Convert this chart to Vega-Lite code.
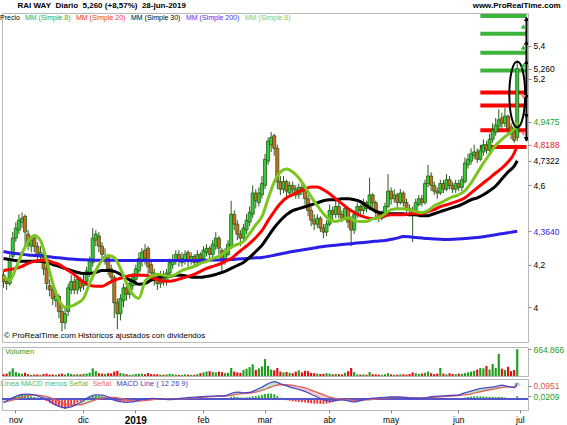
{
"$schema": "https://vega.github.io/schema/vega-lite/v6.json",
"padding": {"left": 1, "top": 1, "right": 0, "bottom": 0},
"background": "white",
"title": {"text": "RAI WAY\u00a0\u00a0Diario\u00a0\u00a05,260\u00a0(+8,57%)\u00a0\u00a028-jun-2019\u00a0\u00a0\u00a0\u00a0\u00a0\u00a0\u00a0\u00a0\u00a0\u00a0\u00a0\u00a0\u00a0\u00a0\u00a0\u00a0\u00a0\u00a0\u00a0\u00a0\u00a0\u00a0\u00a0\u00a0\u00a0\u00a0\u00a0\u00a0\u00a0\u00a0\u00a0\u00a0\u00a0\u00a0\u00a0\u00a0\u00a0\u00a0\u00a0\u00a0\u00a0\u00a0\u00a0\u00a0\u00a0\u00a0\u00a0\u00a0\u00a0\u00a0\u00a0\u00a0\u00a0\u00a0\u00a0\u00a0\u00a0\u00a0\u00a0\u00a0\u00a0\u00a0\u00a0\u00a0\u00a0\u00a0\u00a0\u00a0\u00a0\u00a0\u00a0\u00a0\u00a0\u00a0\u00a0\u00a0\u00a0\u00a0\u00a0\u00a0\u00a0\u00a0\u00a0\u00a0\u00a0\u00a0\u00a0\u00a0\u00a0\u00a0\u00a0\u00a0\u00a0\u00a0\u00a0\u00a0\u00a0\u00a0\u00a0\u00a0\u00a0\u00a0\u00a0\u00a0\u00a0\u00a0\u00a0\u00a0\u00a0\u00a0\u00a0\u00a0\u00a0\u00a0\u00a0\u00a0\u00a0\u00a0\u00a0\u00a0\u00a0\u00a0\u00a0\u00a0\u00a0\u00a0\u00a0\u00a0\u00a0www.ProRealTime.com", "anchor": "start", "fontSize": 8, "fontWeight": "bold", "font": "Liberation Sans", "color": "#000000", "offset": 3, "dx": 16},
"datasets": {
"px": [
{"d":"2018-10-26","o":4.15,"h":4.17,"l":4.09,"c":4.12,"v":45000,"hs":-0.008},
{"d":"2018-10-29","o":4.12,"h":4.14,"l":4.08,"c":4.11,"v":60000,"hs":-0.004},
{"d":"2018-10-30","o":4.11,"h":4.25,"l":4.10,"c":4.23,"v":110000,"hs":0.006},
{"d":"2018-10-31","o":4.24,"h":4.36,"l":4.22,"c":4.33,"v":190000,"hs":0.015},
{"d":"2018-11-01","o":4.33,"h":4.41,"l":4.31,"c":4.38,"v":95000,"hs":0.022},
{"d":"2018-11-02","o":4.37,"h":4.45,"l":4.35,"c":4.42,"v":70000,"hs":0.027},
{"d":"2018-11-05","o":4.41,"h":4.46,"l":4.38,"c":4.43,"v":55000,"hs":0.03},
{"d":"2018-11-06","o":4.44,"h":4.45,"l":4.29,"c":4.36,"v":80000,"hs":0.028},
{"d":"2018-11-07","o":4.35,"h":4.37,"l":4.27,"c":4.30,"v":45000,"hs":0.024},
{"d":"2018-11-08","o":4.29,"h":4.34,"l":4.26,"c":4.32,"v":30000,"hs":0.02},
{"d":"2018-11-09","o":4.33,"h":4.35,"l":4.26,"c":4.29,"v":35000,"hs":0.016},
{"d":"2018-11-12","o":4.29,"h":4.31,"l":4.22,"c":4.25,"v":40000,"hs":0.012},
{"d":"2018-11-13","o":4.24,"h":4.29,"l":4.21,"c":4.26,"v":30000,"hs":0.006},
{"d":"2018-11-14","o":4.25,"h":4.27,"l":4.15,"c":4.18,"v":50000,"hs":-0.004},
{"d":"2018-11-15","o":4.18,"h":4.20,"l":4.08,"c":4.11,"v":60000,"hs":-0.015},
{"d":"2018-11-16","o":4.10,"h":4.13,"l":4.05,"c":4.08,"v":35000,"hs":-0.026},
{"d":"2018-11-19","o":4.08,"h":4.10,"l":4.01,"c":4.04,"v":40000,"hs":-0.038},
{"d":"2018-11-20","o":4.03,"h":4.08,"l":4.00,"c":4.05,"v":30000,"hs":-0.048},
{"d":"2018-11-21","o":4.05,"h":4.06,"l":3.95,"c":3.98,"v":45000,"hs":-0.057},
{"d":"2018-11-22","o":3.98,"h":4.00,"l":3.89,"c":3.93,"v":60000,"hs":-0.066},
{"d":"2018-11-23","o":3.93,"h":4.00,"l":3.90,"c":3.97,"v":40000,"hs":-0.07},
{"d":"2018-11-26","o":3.98,"h":4.11,"l":3.96,"c":4.09,"v":70000,"hs":-0.062},
{"d":"2018-11-27","o":4.08,"h":4.15,"l":4.06,"c":4.12,"v":50000,"hs":-0.05},
{"d":"2018-11-28","o":4.12,"h":4.14,"l":4.06,"c":4.08,"v":35000,"hs":-0.038},
{"d":"2018-11-29","o":4.08,"h":4.15,"l":4.06,"c":4.13,"v":45000,"hs":-0.026},
{"d":"2018-11-30","o":4.13,"h":4.14,"l":4.07,"c":4.09,"v":40000,"hs":-0.015},
{"d":"2018-12-03","o":4.10,"h":4.15,"l":4.08,"c":4.12,"v":55000,"hs":-0.005},
{"d":"2018-12-04","o":4.12,"h":4.19,"l":4.10,"c":4.17,"v":60000,"hs":0.004},
{"d":"2018-12-05","o":4.16,"h":4.24,"l":4.14,"c":4.22,"v":80000,"hs":0.012},
{"d":"2018-12-06","o":4.21,"h":4.38,"l":4.19,"c":4.33,"v":190000,"hs":0.02},
{"d":"2018-12-07","o":4.32,"h":4.37,"l":4.29,"c":4.35,"v":120000,"hs":0.024},
{"d":"2018-12-10","o":4.34,"h":4.36,"l":4.26,"c":4.29,"v":70000,"hs":0.022},
{"d":"2018-12-11","o":4.29,"h":4.31,"l":4.22,"c":4.25,"v":60000,"hs":0.018},
{"d":"2018-12-12","o":4.23,"h":4.28,"l":4.20,"c":4.24,"v":50000,"hs":0.012},
{"d":"2018-12-13","o":4.24,"h":4.25,"l":4.15,"c":4.18,"v":70000,"hs":0.006},
{"d":"2018-12-14","o":4.18,"h":4.20,"l":4.11,"c":4.14,"v":65000,"hs":0.0},
{"d":"2018-12-17","o":4.14,"h":4.15,"l":3.95,"c":4.02,"v":110000,"hs":-0.008},
{"d":"2018-12-18","o":4.02,"h":4.04,"l":3.90,"c":3.97,"v":130000,"hs":-0.014},
{"d":"2018-12-19","o":3.97,"h":4.06,"l":3.94,"c":4.04,"v":75000,"hs":-0.018},
{"d":"2018-12-20","o":4.03,"h":4.11,"l":4.00,"c":4.09,"v":60000,"hs":-0.018},
{"d":"2018-12-21","o":4.09,"h":4.12,"l":4.03,"c":4.06,"v":45000,"hs":-0.016},
{"d":"2018-12-27","o":4.06,"h":4.13,"l":4.04,"c":4.11,"v":30000,"hs":-0.013},
{"d":"2018-12-28","o":4.10,"h":4.16,"l":4.08,"c":4.14,"v":35000,"hs":-0.01},
{"d":"2019-01-02","o":4.13,"h":4.20,"l":4.10,"c":4.18,"v":50000,"hs":-0.006},
{"d":"2019-01-03","o":4.17,"h":4.26,"l":4.15,"c":4.23,"v":55000,"hs":-0.002},
{"d":"2019-01-04","o":4.22,"h":4.28,"l":4.19,"c":4.26,"v":60000,"hs":0.003},
{"d":"2019-01-07","o":4.27,"h":4.30,"l":4.20,"c":4.23,"v":45000,"hs":0.006},
{"d":"2019-01-08","o":4.28,"h":4.29,"l":4.14,"c":4.19,"v":75000,"hs":0.005},
{"d":"2019-01-09","o":4.20,"h":4.22,"l":4.13,"c":4.16,"v":50000,"hs":0.004},
{"d":"2019-01-10","o":4.16,"h":4.18,"l":4.10,"c":4.13,"v":40000,"hs":0.002},
{"d":"2019-01-11","o":4.13,"h":4.15,"l":4.08,"c":4.11,"v":45000,"hs":0.001},
{"d":"2019-01-14","o":4.11,"h":4.17,"l":4.09,"c":4.15,"v":35000,"hs":-0.001},
{"d":"2019-01-15","o":4.15,"h":4.17,"l":4.10,"c":4.13,"v":30000,"hs":-0.002},
{"d":"2019-01-16","o":4.12,"h":4.18,"l":4.10,"c":4.16,"v":40000,"hs":-0.003},
{"d":"2019-01-17","o":4.16,"h":4.23,"l":4.14,"c":4.21,"v":55000,"hs":-0.002},
{"d":"2019-01-18","o":4.20,"h":4.25,"l":4.18,"c":4.22,"v":45000,"hs":0.0},
{"d":"2019-01-21","o":4.22,"h":4.27,"l":4.20,"c":4.25,"v":35000,"hs":0.002},
{"d":"2019-01-22","o":4.25,"h":4.27,"l":4.19,"c":4.22,"v":30000,"hs":0.003},
{"d":"2019-01-23","o":4.21,"h":4.26,"l":4.19,"c":4.23,"v":25000,"hs":0.004},
{"d":"2019-01-24","o":4.22,"h":4.27,"l":4.20,"c":4.25,"v":40000,"hs":0.005},
{"d":"2019-01-25","o":4.26,"h":4.27,"l":4.19,"c":4.22,"v":35000,"hs":0.006},
{"d":"2019-01-28","o":4.22,"h":4.26,"l":4.20,"c":4.24,"v":30000,"hs":0.006},
{"d":"2019-01-29","o":4.24,"h":4.25,"l":4.19,"c":4.21,"v":30000,"hs":0.007},
{"d":"2019-01-30","o":4.21,"h":4.27,"l":4.19,"c":4.25,"v":45000,"hs":0.007},
{"d":"2019-01-31","o":4.25,"h":4.26,"l":4.21,"c":4.23,"v":70000,"hs":0.006},
{"d":"2019-02-01","o":4.23,"h":4.29,"l":4.21,"c":4.27,"v":90000,"hs":0.006},
{"d":"2019-02-04","o":4.26,"h":4.30,"l":4.24,"c":4.28,"v":110000,"hs":0.006},
{"d":"2019-02-05","o":4.28,"h":4.29,"l":4.23,"c":4.25,"v":120000,"hs":0.005},
{"d":"2019-02-06","o":4.25,"h":4.32,"l":4.23,"c":4.30,"v":100000,"hs":0.005},
{"d":"2019-02-07","o":4.29,"h":4.36,"l":4.27,"c":4.33,"v":90000,"hs":0.005},
{"d":"2019-02-08","o":4.33,"h":4.34,"l":4.25,"c":4.28,"v":110000,"hs":0.004},
{"d":"2019-02-11","o":4.27,"h":4.28,"l":4.16,"c":4.22,"v":95000,"hs":0.003},
{"d":"2019-02-12","o":4.22,"h":4.28,"l":4.20,"c":4.26,"v":70000,"hs":0.004},
{"d":"2019-02-13","o":4.25,"h":4.32,"l":4.24,"c":4.30,"v":80000,"hs":0.008},
{"d":"2019-02-14","o":4.29,"h":4.52,"l":4.28,"c":4.45,"v":200000,"hs":0.016},
{"d":"2019-02-15","o":4.45,"h":4.47,"l":4.37,"c":4.40,"v":110000,"hs":0.018},
{"d":"2019-02-18","o":4.40,"h":4.42,"l":4.32,"c":4.35,"v":90000,"hs":0.016},
{"d":"2019-02-19","o":4.35,"h":4.37,"l":4.29,"c":4.33,"v":80000,"hs":0.012},
{"d":"2019-02-20","o":4.33,"h":4.40,"l":4.31,"c":4.38,"v":150000,"hs":0.01},
{"d":"2019-02-21","o":4.37,"h":4.45,"l":4.35,"c":4.42,"v":180000,"hs":0.012},
{"d":"2019-02-22","o":4.41,"h":4.49,"l":4.39,"c":4.46,"v":220000,"hs":0.014},
{"d":"2019-02-25","o":4.45,"h":4.60,"l":4.43,"c":4.56,"v":290000,"hs":0.02},
{"d":"2019-02-26","o":4.56,"h":4.58,"l":4.48,"c":4.52,"v":150000,"hs":0.022},
{"d":"2019-02-27","o":4.51,"h":4.59,"l":4.49,"c":4.56,"v":190000,"hs":0.025},
{"d":"2019-02-28","o":4.55,"h":4.65,"l":4.53,"c":4.61,"v":240000,"hs":0.03},
{"d":"2019-03-01","o":4.60,"h":4.77,"l":4.58,"c":4.74,"v":420000,"hs":0.036},
{"d":"2019-03-04","o":4.73,"h":4.86,"l":4.71,"c":4.84,"v":250000,"hs":0.04},
{"d":"2019-03-05","o":4.82,"h":4.89,"l":4.78,"c":4.86,"v":160000,"hs":0.04},
{"d":"2019-03-06","o":4.87,"h":4.88,"l":4.76,"c":4.80,"v":140000,"hs":0.035},
{"d":"2019-03-07","o":4.80,"h":4.82,"l":4.58,"c":4.62,"v":200000,"hs":0.022},
{"d":"2019-03-08","o":4.62,"h":4.65,"l":4.55,"c":4.58,"v":110000,"hs":0.01},
{"d":"2019-03-11","o":4.58,"h":4.65,"l":4.56,"c":4.62,"v":90000,"hs":0.0},
{"d":"2019-03-12","o":4.62,"h":4.63,"l":4.54,"c":4.57,"v":100000,"hs":-0.008},
{"d":"2019-03-13","o":4.56,"h":4.62,"l":4.54,"c":4.60,"v":80000,"hs":-0.012},
{"d":"2019-03-14","o":4.60,"h":4.62,"l":4.55,"c":4.58,"v":70000,"hs":-0.016},
{"d":"2019-03-15","o":4.58,"h":4.60,"l":4.53,"c":4.55,"v":110000,"hs":-0.018},
{"d":"2019-03-18","o":4.55,"h":4.61,"l":4.53,"c":4.59,"v":140000,"hs":-0.02},
{"d":"2019-03-19","o":4.59,"h":4.62,"l":4.55,"c":4.57,"v":90000,"hs":-0.022},
{"d":"2019-03-20","o":4.57,"h":4.59,"l":4.50,"c":4.53,"v":130000,"hs":-0.025},
{"d":"2019-03-21","o":4.53,"h":4.55,"l":4.44,"c":4.47,"v":120000,"hs":-0.028},
{"d":"2019-03-22","o":4.47,"h":4.49,"l":4.39,"c":4.42,"v":80000,"hs":-0.03},
{"d":"2019-03-25","o":4.42,"h":4.45,"l":4.37,"c":4.40,"v":70000,"hs":-0.032},
{"d":"2019-03-26","o":4.40,"h":4.45,"l":4.38,"c":4.43,"v":60000,"hs":-0.033},
{"d":"2019-03-27","o":4.43,"h":4.44,"l":4.36,"c":4.38,"v":50000,"hs":-0.034},
{"d":"2019-03-28","o":4.38,"h":4.40,"l":4.33,"c":4.36,"v":55000,"hs":-0.034},
{"d":"2019-03-29","o":4.36,"h":4.42,"l":4.34,"c":4.40,"v":70000,"hs":-0.032},
{"d":"2019-04-01","o":4.40,"h":4.50,"l":4.39,"c":4.47,"v":60000,"hs":-0.028},
{"d":"2019-04-02","o":4.47,"h":4.49,"l":4.42,"c":4.45,"v":40000,"hs":-0.022},
{"d":"2019-04-03","o":4.45,"h":4.52,"l":4.43,"c":4.49,"v":50000,"hs":-0.016},
{"d":"2019-04-04","o":4.49,"h":4.51,"l":4.43,"c":4.45,"v":45000,"hs":-0.012},
{"d":"2019-04-05","o":4.45,"h":4.47,"l":4.41,"c":4.43,"v":40000,"hs":-0.008},
{"d":"2019-04-08","o":4.43,"h":4.50,"l":4.42,"c":4.48,"v":80000,"hs":-0.006},
{"d":"2019-04-09","o":4.48,"h":4.49,"l":4.38,"c":4.41,"v":120000,"hs":-0.008},
{"d":"2019-04-10","o":4.42,"h":4.44,"l":4.29,"c":4.37,"v":200000,"hs":-0.01},
{"d":"2019-04-11","o":4.37,"h":4.47,"l":4.35,"c":4.45,"v":100000,"hs":-0.01},
{"d":"2019-04-12","o":4.45,"h":4.51,"l":4.43,"c":4.49,"v":40000,"hs":-0.006},
{"d":"2019-04-15","o":4.49,"h":4.50,"l":4.44,"c":4.47,"v":35000,"hs":-0.002},
{"d":"2019-04-16","o":4.47,"h":4.53,"l":4.45,"c":4.51,"v":40000,"hs":0.002},
{"d":"2019-04-17","o":4.51,"h":4.52,"l":4.46,"c":4.48,"v":30000,"hs":0.005},
{"d":"2019-04-18","o":4.48,"h":4.64,"l":4.47,"c":4.55,"v":100000,"hs":0.007},
{"d":"2019-04-23","o":4.55,"h":4.56,"l":4.48,"c":4.51,"v":45000,"hs":0.008},
{"d":"2019-04-24","o":4.51,"h":4.52,"l":4.43,"c":4.46,"v":40000,"hs":0.008},
{"d":"2019-04-25","o":4.46,"h":4.47,"l":4.41,"c":4.43,"v":35000,"hs":0.007},
{"d":"2019-04-26","o":4.43,"h":4.47,"l":4.42,"c":4.45,"v":30000,"hs":0.006},
{"d":"2019-04-29","o":4.45,"h":4.51,"l":4.43,"c":4.49,"v":45000,"hs":0.006},
{"d":"2019-04-30","o":4.49,"h":4.66,"l":4.48,"c":4.57,"v":70000,"hs":0.006},
{"d":"2019-05-02","o":4.57,"h":4.59,"l":4.50,"c":4.53,"v":40000,"hs":0.006},
{"d":"2019-05-03","o":4.53,"h":4.58,"l":4.51,"c":4.55,"v":30000,"hs":0.005},
{"d":"2019-05-06","o":4.55,"h":4.56,"l":4.48,"c":4.51,"v":35000,"hs":0.004},
{"d":"2019-05-07","o":4.51,"h":4.58,"l":4.50,"c":4.56,"v":40000,"hs":0.003},
{"d":"2019-05-08","o":4.56,"h":4.57,"l":4.49,"c":4.51,"v":45000,"hs":0.0},
{"d":"2019-05-09","o":4.51,"h":4.53,"l":4.46,"c":4.48,"v":35000,"hs":-0.002},
{"d":"2019-05-10","o":4.48,"h":4.50,"l":4.45,"c":4.47,"v":50000,"hs":-0.003},
{"d":"2019-05-13","o":4.47,"h":4.49,"l":4.31,"c":4.45,"v":90000,"hs":-0.004},
{"d":"2019-05-14","o":4.45,"h":4.53,"l":4.44,"c":4.51,"v":70000,"hs":-0.003},
{"d":"2019-05-15","o":4.50,"h":4.55,"l":4.49,"c":4.53,"v":50000,"hs":-0.002},
{"d":"2019-05-16","o":4.53,"h":4.55,"l":4.49,"c":4.51,"v":60000,"hs":-0.001},
{"d":"2019-05-17","o":4.51,"h":4.63,"l":4.50,"c":4.61,"v":80000,"hs":0.002},
{"d":"2019-05-20","o":4.61,"h":4.71,"l":4.59,"c":4.65,"v":110000,"hs":0.004},
{"d":"2019-05-21","o":4.65,"h":4.67,"l":4.57,"c":4.60,"v":70000,"hs":0.005},
{"d":"2019-05-22","o":4.60,"h":4.62,"l":4.55,"c":4.57,"v":45000,"hs":0.006},
{"d":"2019-05-23","o":4.57,"h":4.59,"l":4.53,"c":4.56,"v":60000,"hs":0.006},
{"d":"2019-05-24","o":4.56,"h":4.63,"l":4.55,"c":4.61,"v":200000,"hs":0.006},
{"d":"2019-05-27","o":4.61,"h":4.63,"l":4.56,"c":4.58,"v":60000,"hs":0.006},
{"d":"2019-05-28","o":4.58,"h":4.66,"l":4.57,"c":4.63,"v":40000,"hs":0.006},
{"d":"2019-05-29","o":4.63,"h":4.65,"l":4.58,"c":4.60,"v":70000,"hs":0.005},
{"d":"2019-05-30","o":4.60,"h":4.62,"l":4.56,"c":4.58,"v":50000,"hs":0.005},
{"d":"2019-05-31","o":4.58,"h":4.63,"l":4.56,"c":4.61,"v":45000,"hs":0.005},
{"d":"2019-06-03","o":4.61,"h":4.63,"l":4.57,"c":4.59,"v":60000,"hs":0.005},
{"d":"2019-06-04","o":4.59,"h":4.65,"l":4.57,"c":4.63,"v":55000,"hs":0.008},
{"d":"2019-06-05","o":4.62,"h":4.75,"l":4.61,"c":4.72,"v":70000,"hs":0.012},
{"d":"2019-06-06","o":4.71,"h":4.77,"l":4.69,"c":4.74,"v":90000,"hs":0.015},
{"d":"2019-06-07","o":4.73,"h":4.80,"l":4.71,"c":4.77,"v":110000,"hs":0.018},
{"d":"2019-06-10","o":4.76,"h":4.82,"l":4.74,"c":4.78,"v":130000,"hs":0.02},
{"d":"2019-06-11","o":4.78,"h":4.80,"l":4.72,"c":4.74,"v":160000,"hs":0.02},
{"d":"2019-06-12","o":4.74,"h":4.82,"l":4.73,"c":4.79,"v":200000,"hs":0.02},
{"d":"2019-06-13","o":4.78,"h":4.85,"l":4.76,"c":4.82,"v":190000,"hs":0.019},
{"d":"2019-06-14","o":4.82,"h":4.84,"l":4.77,"c":4.79,"v":250000,"hs":0.018},
{"d":"2019-06-17","o":4.79,"h":4.88,"l":4.78,"c":4.85,"v":160000,"hs":0.017},
{"d":"2019-06-18","o":4.85,"h":4.94,"l":4.83,"c":4.90,"v":300000,"hs":0.016},
{"d":"2019-06-19","o":4.89,"h":4.97,"l":4.87,"c":4.93,"v":200000,"hs":0.015},
{"d":"2019-06-20","o":4.92,"h":5.02,"l":4.90,"c":4.96,"v":550000,"hs":0.016},
{"d":"2019-06-21","o":4.97,"h":5.00,"l":4.91,"c":4.94,"v":180000,"hs":0.015},
{"d":"2019-06-24","o":4.94,"h":5.03,"l":4.92,"c":4.98,"v":150000,"hs":0.012},
{"d":"2019-06-25","o":4.98,"h":4.99,"l":4.88,"c":4.91,"v":230000,"hs":0.006},
{"d":"2019-06-26","o":4.92,"h":4.94,"l":4.85,"c":4.88,"v":120000,"hs":0.002},
{"d":"2019-06-27","o":4.89,"h":4.91,"l":4.83,"c":4.845,"v":150000,"hs":-0.004},
{"d":"2019-06-28","o":4.86,"h":5.30,"l":4.84,"c":5.26,"v":664866,"hs":0.0209},
{"d":"2019-07-01"},
{"d":"2019-07-02"},
{"d":"2019-07-03"}
],
"ma": [
{"d":"2018-10-26","m8":4.144,"m20":4.172,"m30":4.230,"m200":4.264,"macd":-0.025,"sig":-0.020},
{"d":"2018-10-30","m8":4.126,"m20":4.177,"m30":4.225,"m200":4.258,"macd":0.0,"sig":-0.012},
{"d":"2018-11-01","m8":4.182,"m20":4.182,"m30":4.220,"m200":4.254,"macd":0.020,"sig":0.0},
{"d":"2018-11-05","m8":4.255,"m20":4.192,"m30":4.216,"m200":4.250,"macd":0.033,"sig":0.015},
{"d":"2018-11-07","m8":4.313,"m20":4.206,"m30":4.216,"m200":4.247,"macd":0.035,"sig":0.025},
{"d":"2018-11-09","m8":4.343,"m20":4.216,"m30":4.216,"m200":4.245,"macd":0.030,"sig":0.030},
{"d":"2018-11-13","m8":4.318,"m20":4.220,"m30":4.216,"m200":4.243,"macd":0.015,"sig":0.027},
{"d":"2018-11-15","m8":4.220,"m20":4.220,"m30":4.211,"m200":4.240,"macd":0.0,"sig":0.018},
{"d":"2018-11-19","m8":4.111,"m20":4.211,"m30":4.201,"m200":4.236,"macd":-0.030,"sig":0.003},
{"d":"2018-11-21","m8":4.032,"m20":4.201,"m30":4.192,"m200":4.233,"macd":-0.052,"sig":-0.015},
{"d":"2018-11-23","m8":4.000,"m20":4.182,"m30":4.182,"m200":4.230,"macd":-0.062,"sig":-0.032},
{"d":"2018-11-27","m8":4.005,"m20":4.163,"m30":4.172,"m200":4.227,"macd":-0.055,"sig":-0.042},
{"d":"2018-11-29","m8":4.018,"m20":4.140,"m30":4.163,"m200":4.225,"macd":-0.035,"sig":-0.042},
{"d":"2018-12-03","m8":4.041,"m20":4.116,"m30":4.158,"m200":4.224,"macd":-0.010,"sig":-0.035},
{"d":"2018-12-05","m8":4.111,"m20":4.102,"m30":4.158,"m200":4.223,"macd":0.018,"sig":-0.020},
{"d":"2018-12-07","m8":4.172,"m20":4.097,"m30":4.163,"m200":4.222,"macd":0.030,"sig":-0.005},
{"d":"2018-12-11","m8":4.220,"m20":4.097,"m30":4.172,"m200":4.222,"macd":0.028,"sig":0.008},
{"d":"2018-12-13","m8":4.245,"m20":4.111,"m30":4.172,"m200":4.221,"macd":0.015,"sig":0.014},
{"d":"2018-12-17","m8":4.235,"m20":4.126,"m30":4.168,"m200":4.221,"macd":-0.008,"sig":0.012},
{"d":"2018-12-19","m8":4.182,"m20":4.135,"m30":4.154,"m200":4.220,"macd":-0.018,"sig":0.005},
{"d":"2018-12-21","m8":4.111,"m20":4.144,"m30":4.135,"m200":4.220,"macd":-0.023,"sig":-0.005},
{"d":"2018-12-28","m8":4.060,"m20":4.149,"m30":4.121,"m200":4.220,"macd":-0.020,"sig":-0.012},
{"d":"2019-01-03","m8":4.041,"m20":4.149,"m30":4.107,"m200":4.220,"macd":-0.008,"sig":-0.014},
{"d":"2019-01-07","m8":4.121,"m20":4.149,"m30":4.111,"m200":4.220,"macd":0.0,"sig":-0.010},
{"d":"2019-01-09","m8":4.144,"m20":4.140,"m30":4.126,"m200":4.220,"macd":0.005,"sig":-0.005},
{"d":"2019-01-11","m8":4.154,"m20":4.130,"m30":4.135,"m200":4.220,"macd":0.004,"sig":0.0},
{"d":"2019-01-15","m8":4.149,"m20":4.121,"m30":4.144,"m200":4.220,"macd":0.0,"sig":0.002},
{"d":"2019-01-17","m8":4.144,"m20":4.121,"m30":4.144,"m200":4.220,"macd":-0.004,"sig":0.001},
{"d":"2019-01-21","m8":4.154,"m20":4.126,"m30":4.149,"m200":4.220,"macd":0.0,"sig":0.0},
{"d":"2019-01-23","m8":4.172,"m20":4.135,"m30":4.149,"m200":4.220,"macd":0.006,"sig":0.002},
{"d":"2019-01-25","m8":4.182,"m20":4.144,"m30":4.144,"m200":4.220,"macd":0.010,"sig":0.005},
{"d":"2019-01-29","m8":4.192,"m20":4.154,"m30":4.140,"m200":4.220,"macd":0.014,"sig":0.009},
{"d":"2019-01-31","m8":4.206,"m20":4.168,"m30":4.140,"m200":4.220,"macd":0.017,"sig":0.012},
{"d":"2019-02-04","m8":4.216,"m20":4.182,"m30":4.144,"m200":4.221,"macd":0.020,"sig":0.015},
{"d":"2019-02-06","m8":4.230,"m20":4.192,"m30":4.149,"m200":4.222,"macd":0.022,"sig":0.018},
{"d":"2019-02-08","m8":4.240,"m20":4.201,"m30":4.158,"m200":4.223,"macd":0.023,"sig":0.020},
{"d":"2019-02-12","m8":4.260,"m20":4.216,"m30":4.168,"m200":4.224,"macd":0.024,"sig":0.022},
{"d":"2019-02-14","m8":4.284,"m20":4.230,"m30":4.182,"m200":4.225,"macd":0.040,"sig":0.027},
{"d":"2019-02-18","m8":4.299,"m20":4.255,"m30":4.196,"m200":4.227,"macd":0.050,"sig":0.035},
{"d":"2019-02-20","m8":4.313,"m20":4.279,"m30":4.211,"m200":4.229,"macd":0.045,"sig":0.040},
{"d":"2019-02-22","m8":4.353,"m20":4.304,"m30":4.235,"m200":4.231,"macd":0.048,"sig":0.043},
{"d":"2019-02-26","m8":4.397,"m20":4.333,"m30":4.264,"m200":4.233,"macd":0.065,"sig":0.050},
{"d":"2019-02-28","m8":4.438,"m20":4.367,"m30":4.294,"m200":4.235,"macd":0.085,"sig":0.062},
{"d":"2019-03-04","m8":4.530,"m20":4.418,"m30":4.338,"m200":4.240,"macd":0.110,"sig":0.078},
{"d":"2019-03-06","m8":4.618,"m20":4.464,"m30":4.382,"m200":4.246,"macd":0.125,"sig":0.095},
{"d":"2019-03-08","m8":4.671,"m20":4.505,"m30":4.418,"m200":4.252,"macd":0.110,"sig":0.103},
{"d":"2019-03-12","m8":4.687,"m20":4.535,"m30":4.448,"m200":4.258,"macd":0.095,"sig":0.103},
{"d":"2019-03-14","m8":4.671,"m20":4.551,"m30":4.469,"m200":4.264,"macd":0.080,"sig":0.098},
{"d":"2019-03-18","m8":4.639,"m20":4.566,"m30":4.479,"m200":4.269,"macd":0.070,"sig":0.090},
{"d":"2019-03-20","m8":4.592,"m20":4.582,"m30":4.489,"m200":4.274,"macd":0.055,"sig":0.080},
{"d":"2019-03-22","m8":4.540,"m20":4.592,"m30":4.499,"m200":4.279,"macd":0.035,"sig":0.065},
{"d":"2019-03-26","m8":4.494,"m20":4.592,"m30":4.509,"m200":4.284,"macd":0.015,"sig":0.048},
{"d":"2019-03-28","m8":4.453,"m20":4.577,"m30":4.520,"m200":4.289,"macd":-0.005,"sig":0.030},
{"d":"2019-04-01","m8":4.423,"m20":4.556,"m30":4.525,"m200":4.292,"macd":-0.015,"sig":0.015},
{"d":"2019-04-03","m8":4.413,"m20":4.530,"m30":4.525,"m200":4.295,"macd":-0.010,"sig":0.005},
{"d":"2019-04-05","m8":4.423,"m20":4.505,"m30":4.530,"m200":4.298,"macd":-0.005,"sig":0.0},
{"d":"2019-04-09","m8":4.433,"m20":4.479,"m30":4.530,"m200":4.301,"macd":-0.012,"sig":-0.004},
{"d":"2019-04-11","m8":4.418,"m20":4.459,"m30":4.525,"m200":4.304,"macd":-0.020,"sig":-0.010},
{"d":"2019-04-15","m8":4.413,"m20":4.443,"m30":4.515,"m200":4.307,"macd":-0.010,"sig":-0.010},
{"d":"2019-04-17","m8":4.413,"m20":4.433,"m30":4.494,"m200":4.310,"macd":0.0,"sig":-0.006},
{"d":"2019-04-23","m8":4.428,"m20":4.428,"m30":4.474,"m200":4.313,"macd":0.007,"sig":-0.002},
{"d":"2019-04-25","m8":4.433,"m20":4.433,"m30":4.459,"m200":4.316,"macd":0.010,"sig":0.003},
{"d":"2019-04-29","m8":4.453,"m20":4.443,"m30":4.453,"m200":4.318,"macd":0.012,"sig":0.007},
{"d":"2019-05-02","m8":4.474,"m20":4.448,"m30":4.453,"m200":4.324,"macd":0.015,"sig":0.010},
{"d":"2019-05-06","m8":4.479,"m20":4.448,"m30":4.453,"m200":4.330,"macd":0.016,"sig":0.013},
{"d":"2019-05-08","m8":4.479,"m20":4.448,"m30":4.453,"m200":4.338,"macd":0.012,"sig":0.013},
{"d":"2019-05-10","m8":4.474,"m20":4.453,"m30":4.448,"m200":4.337,"macd":0.007,"sig":0.011},
{"d":"2019-05-14","m8":4.464,"m20":4.453,"m30":4.448,"m200":4.333,"macd":0.006,"sig":0.009},
{"d":"2019-05-16","m8":4.459,"m20":4.453,"m30":4.443,"m200":4.330,"macd":0.007,"sig":0.008},
{"d":"2019-05-20","m8":4.469,"m20":4.464,"m30":4.443,"m200":4.328,"macd":0.013,"sig":0.010},
{"d":"2019-05-22","m8":4.494,"m20":4.474,"m30":4.453,"m200":4.326,"macd":0.019,"sig":0.013},
{"d":"2019-05-24","m8":4.509,"m20":4.489,"m30":4.464,"m200":4.324,"macd":0.022,"sig":0.016},
{"d":"2019-05-28","m8":4.525,"m20":4.499,"m30":4.474,"m200":4.323,"macd":0.025,"sig":0.019},
{"d":"2019-05-30","m8":4.540,"m20":4.509,"m30":4.484,"m200":4.324,"macd":0.027,"sig":0.022},
{"d":"2019-06-03","m8":4.551,"m20":4.520,"m30":4.494,"m200":4.326,"macd":0.030,"sig":0.025},
{"d":"2019-06-05","m8":4.572,"m20":4.535,"m30":4.509,"m200":4.328,"macd":0.045,"sig":0.030},
{"d":"2019-06-07","m8":4.613,"m20":4.561,"m30":4.525,"m200":4.331,"macd":0.058,"sig":0.038},
{"d":"2019-06-11","m8":4.666,"m20":4.587,"m30":4.535,"m200":4.333,"macd":0.070,"sig":0.048},
{"d":"2019-06-13","m8":4.719,"m20":4.613,"m30":4.551,"m200":4.337,"macd":0.078,"sig":0.058},
{"d":"2019-06-17","m8":4.768,"m20":4.639,"m30":4.572,"m200":4.342,"macd":0.084,"sig":0.067},
{"d":"2019-06-19","m8":4.817,"m20":4.666,"m30":4.597,"m200":4.347,"macd":0.090,"sig":0.075},
{"d":"2019-06-21","m8":4.850,"m20":4.692,"m30":4.634,"m200":4.352,"macd":0.100,"sig":0.083},
{"d":"2019-06-25","m8":4.878,"m20":4.725,"m30":4.671,"m200":4.357,"macd":0.090,"sig":0.087},
{"d":"2019-06-27","m8":4.906,"m20":4.773,"m30":4.703,"m200":4.362,"macd":0.082,"sig":0.088},
{"d":"2019-06-28","m8":4.9475,"m20":4.8188,"m30":4.7322,"m200":4.364,"macd":0.116,"sig":0.0951}
],
"lv": [
{"d":"2019-06-12","b":"2019-07-03","p":5.588,"side":"up"},
{"d":"2019-06-12","b":"2019-07-03","p":5.474,"side":"up"},
{"d":"2019-06-12","b":"2019-07-03","p":5.357,"side":"up"},
{"d":"2019-06-12","b":"2019-07-03","p":5.248,"side":"up"},
{"d":"2019-06-12","b":"2019-07-03","p":5.117,"side":"down"},
{"d":"2019-06-12","b":"2019-07-03","p":5.042,"side":"down"},
{"d":"2019-06-12","b":"2019-07-03","p":4.901,"side":"down"},
{"d":"2019-06-12","b":"2019-07-03","p":4.807,"side":"down"}
],
"seg": [{"d":"2019-07-03","p0":4.84,"p1":5.57}],
"ar": [
{"d":"2019-07-03","p":5.57,"dir":"up","grp":"main"},
{"d":"2019-07-03","p":5.42,"dir":"up","grp":"main"},
{"d":"2019-07-03","p":5.30,"dir":"up","grp":"main"},
{"d":"2019-07-03","p":5.09,"dir":"down","grp":"main"},
{"d":"2019-07-03","p":4.98,"dir":"down","grp":"main"},
{"d":"2019-07-03","p":4.85,"dir":"down","grp":"main"},
{"d":"2019-07-02","p":5.52,"dir":"up","grp":"side"},
{"d":"2019-07-02","p":5.39,"dir":"up","grp":"side"},
{"d":"2019-07-02","p":5.28,"dir":"up","grp":"side"},
{"d":"2019-07-02","p":5.09,"dir":"down","grp":"side"},
{"d":"2019-07-02","p":4.88,"dir":"down","grp":"side"}
],
"el": [{"d":"2019-06-28","p":5.106}]
},
"spacing": 1,
"resolve": {"scale": {"x": "shared", "color": "independent"}, "legend": {"color": "independent"}},
"vconcat": [
{
"width": 526, "height": 329,
"title": {"text": "© ProRealTime.com  Históricos ajustados con dividendos", "orient": "bottom", "anchor": "start", "offset": -10, "fontSize": 8, "fontWeight": "normal", "color": "#000000", "dx": 2},
"encoding": {"x": {"field": "d", "type": "ordinal", "axis": null}},
"layer": [
{"data": {"name": "px"}, "mark": {"type": "tick", "opacity": 0, "clip": true}, "encoding": {}},
{"data": {"name": "lv"}, "mark": {"type": "rule", "strokeWidth": 4, "clip": true},
 "encoding": {"x2": {"field": "b"}, "y": {"field": "p", "type": "quantitative", "title": null, "scale": {"type": "log", "domain": [3.8433, 5.6067], "nice": false},
   "axis": {"orient": "right", "title": null, "values": [4, 4.2, 4.364, 4.6, 4.7322, 4.8188, 4.9475, 5.2, 5.26, 5.4],
     "labelExpr": "datum.value == 4 ? '4' : (datum.value == 5.26 ? '5,260' : (indexof([4.2, 4.6, 5.2, 5.4], datum.value) >= 0 ? replace(format(datum.value, '.1f'), '.', ',') : replace(format(datum.value, '.4f'), '.', ',')))",
     "labelColor": {"condition": [{"test": "datum.value == 4.9475", "value": "#22a022"}, {"test": "datum.value == 4.8188", "value": "#ee1111"}, {"test": "datum.value == 4.364", "value": "#3322dd"}], "value": "#000000"},
     "labelOverlap": false}},
  "color": {"condition": {"test": "datum.side == 'up'", "value": "#3cb43c"}, "value": "#ff0000"}}},
{"data": {"name": "px"}, "mark": {"type": "rule", "color": "#2a5a1a", "strokeWidth": 1, "clip": true},
 "encoding": {"y": {"field": "l", "type": "quantitative", "title": null, "scale": {"type": "log", "domain": [3.8433, 5.6067], "nice": false}}, "y2": {"field": "h"}}},
{"data": {"name": "px"}, "mark": {"type": "bar", "width": {"band": 1}, "stroke": "#2a5a1a", "strokeWidth": 0.8, "clip": true},
 "encoding": {"y": {"field": "o", "type": "quantitative", "title": null, "scale": {"type": "log", "domain": [3.8433, 5.6067], "nice": false}}, "y2": {"field": "c"},
  "color": {"condition": {"test": "datum.c >= datum.o", "value": "#33cc33"}, "value": "#d2691e"}}},
{"data": {"name": "ma"}, "mark": {"type": "line", "strokeWidth": 3, "interpolate": "monotone", "clip": true},
 "encoding": {"y": {"field": "m200", "type": "quantitative", "title": null, "scale": {"type": "log", "domain": [3.8433, 5.6067], "nice": false}},
  "color": {"datum": "m200", "type": "nominal",
    "scale": {"domain": ["Precio", "m8a", "m20", "m30", "m200", "m8"], "range": ["#000000", "#22a022", "#ff0000", "#000000", "#2b1ee6", "#7cc520"]},
    "legend": {"orient": "top-left", "direction": "horizontal", "columns": 6, "title": null, "offset": 0, "padding": 1, "symbolSize": 0, "symbolStrokeWidth": 0, "symbolOpacity": 0, "labelOffset": -10, "columnPadding": 5, "labelFontSize": 7, "labelFont": "Liberation Sans",
      "labelExpr": "datum.value == 'Precio' ? 'Precio' : datum.value == 'm20' ? 'MM (Simple 20)' : datum.value == 'm30' ? 'MM (Simple 30)' : datum.value == 'm200' ? 'MM (Simple 200)' : 'MM (Simple 8)'",
      "labelColor": {"expr": "datum.value == 'm8a' ? '#33aa33' : datum.value == 'm20' ? '#ee3333' : datum.value == 'm200' ? '#4433ee' : datum.value == 'm8' ? '#88cc55' : '#000000'"}}}}},
{"data": {"name": "ma"}, "mark": {"type": "line", "strokeWidth": 3, "interpolate": "monotone", "clip": true},
 "encoding": {"y": {"field": "m30", "type": "quantitative", "title": null, "scale": {"type": "log", "domain": [3.8433, 5.6067], "nice": false}}, "color": {"datum": "m30", "type": "nominal"}}},
{"data": {"name": "ma"}, "mark": {"type": "line", "strokeWidth": 3, "interpolate": "monotone", "clip": true},
 "encoding": {"y": {"field": "m20", "type": "quantitative", "title": null, "scale": {"type": "log", "domain": [3.8433, 5.6067], "nice": false}}, "color": {"datum": "m20", "type": "nominal"}}},
{"data": {"name": "ma"}, "mark": {"type": "line", "strokeWidth": 3, "interpolate": "monotone", "clip": true},
 "encoding": {"y": {"field": "m8", "type": "quantitative", "title": null, "scale": {"type": "log", "domain": [3.8433, 5.6067], "nice": false}}, "color": {"datum": "m8", "type": "nominal"}}},
{"data": {"name": "el"}, "mark": {"type": "point", "shape": "M0,-1 A0.24,1 0 1,1 0,1 A0.24,1 0 1,1 0,-1 Z", "size": 4356, "filled": false, "stroke": "#000000", "strokeWidth": 2, "opacity": 1, "clip": true},
 "encoding": {"y": {"field": "p", "type": "quantitative", "title": null, "scale": {"type": "log", "domain": [3.8433, 5.6067], "nice": false}}}},
{"data": {"name": "seg"}, "mark": {"type": "rule", "color": "#000000", "strokeWidth": 2, "clip": true},
 "encoding": {"y": {"field": "p0", "type": "quantitative", "title": null, "scale": {"type": "log", "domain": [3.8433, 5.6067], "nice": false}}, "y2": {"field": "p1"}}},
{"data": {"name": "ar"}, "mark": {"type": "point", "filled": true, "size": 28, "opacity": 1, "clip": true},
 "encoding": {"y": {"field": "p", "type": "quantitative", "title": null, "scale": {"type": "log", "domain": [3.8433, 5.6067], "nice": false}},
  "shape": {"condition": {"test": "datum.dir == 'up'", "value": "triangle-up"}, "value": "triangle-down"},
  "color": {"condition": [{"test": "datum.grp == 'main'", "value": "#000000"}, {"test": "datum.dir == 'up'", "value": "#33bb33"}], "value": "#ff8888"}}}
]
},
{
"width": 526, "height": 29,
"data": {"name": "px"},
"title": {"text": "Volumen", "orient": "top", "anchor": "start", "offset": -10, "fontSize": 7.5, "fontWeight": "normal", "color": "#2a9a2a", "dx": 3},
"mark": {"type": "bar", "width": {"band": 0.7}, "clip": true},
"encoding": {
 "x": {"field": "d", "type": "ordinal", "axis": null},
 "y": {"field": "v", "type": "quantitative", "scale": {"domain": [0, 720000], "nice": false},
   "axis": {"orient": "right", "title": null, "values": [664866], "labelExpr": "'664.866'", "labelColor": "#2a9a2a"}},
 "color": {"condition": {"test": "datum.c >= datum.o", "value": "#1e9e1e"}, "value": "#e01010"}}
},
{
"width": 526, "height": 31,
"encoding": {"x": {"field": "d", "type": "ordinal",
  "axis": {"orient": "bottom", "title": null, "domain": false, "labelAngle": 0, "labelOverlap": false, "tickSize": 3, "labelPadding": 2,
    "values": ["2018-11-01", "2018-12-03", "2019-01-02", "2019-02-01", "2019-03-01", "2019-04-01", "2019-05-02", "2019-06-03", "2019-07-01"],
    "labelExpr": "substring(datum.value, 5, 7) == '01' ? substring(datum.value, 0, 4) : ['ene','feb','mar','abr','may','jun','jul','ago','sep','oct','nov','dic'][toNumber(substring(datum.value, 5, 7)) - 1]",
    "labelFontWeight": {"condition": {"test": "substring(datum.value, 5, 7) == '01'", "value": "bold"}, "value": "normal"},
    "labelFontSize": {"condition": {"test": "substring(datum.value, 5, 7) == '01'", "value": 10}, "value": 8.5}}}},
"layer": [
{"data": {"name": "ma"}, "mark": {"type": "bar", "width": {"band": 2}, "opacity": 0.45, "clip": true},
 "encoding": {"y": {"field": "macd", "type": "quantitative", "title": null, "scale": {"domain": [-0.078, 0.144], "nice": false},
   "axis": {"orient": "right", "title": null, "values": [0.0209, 0.0951], "labelExpr": "replace(format(datum.value, '.4f'), '.', ',')",
     "labelColor": {"condition": {"test": "datum.value > 0.05", "value": "#e05050"}, "value": "#22a022"}}},
  "y2": {"field": "sig"},
  "color": {"condition": {"test": "datum.macd >= datum.sig", "value": "#66cc66"}, "value": "#f08888"}}},
{"data": {"name": "px"}, "mark": {"type": "bar", "width": {"band": 0.6}, "clip": true},
 "encoding": {"y": {"field": "hs", "type": "quantitative", "title": null, "scale": {"domain": [-0.078, 0.144], "nice": false}}, "y2": {"datum": 0},
  "color": {"condition": {"test": "datum.hs >= 0", "value": "#22aa22"}, "value": "#ee3333"}}},
{"data": {"name": "ma"}, "mark": {"type": "rule", "color": "#5555cc", "strokeWidth": 1, "clip": true},
 "encoding": {"x": {"value": 0}, "x2": {"value": 526}, "y": {"datum": 0, "type": "quantitative", "title": null, "scale": {"domain": [-0.078, 0.144], "nice": false}}}},
{"data": {"name": "ma"}, "mark": {"type": "line", "strokeWidth": 1.3, "interpolate": "monotone", "clip": true},
 "encoding": {"y": {"field": "sig", "type": "quantitative", "title": null, "scale": {"domain": [-0.078, 0.144], "nice": false}},
  "color": {"datum": "sig", "type": "nominal",
   "scale": {"domain": ["hist", "sig", "macd"], "range": ["#33aa33", "#e06060", "#4848c8"]},
   "legend": {"orient": "top-left", "direction": "horizontal", "columns": 3, "title": null, "offset": 0, "padding": 1, "symbolSize": 0, "symbolStrokeWidth": 0, "symbolOpacity": 0, "labelOffset": -10, "columnPadding": 4, "labelFontSize": 7.4, "labelFont": "Liberation Sans",
     "labelExpr": "datum.value == 'hist' ? 'Línea MACD menos Señal' : datum.value == 'sig' ? 'Señal' : 'MACD Line ( 12 26 9)'",
     "labelColor": {"expr": "datum.value == 'hist' ? '#55bb55' : datum.value == 'sig' ? '#e07070' : '#4040c0'"}}}}},
{"data": {"name": "ma"}, "mark": {"type": "line", "strokeWidth": 1.3, "interpolate": "monotone", "clip": true},
 "encoding": {"y": {"field": "macd", "type": "quantitative", "title": null, "scale": {"domain": [-0.078, 0.144], "nice": false}}, "color": {"datum": "macd", "type": "nominal"}}}
]
}
],
"config": {
 "font": "Liberation Sans",
 "view": {"stroke": "#b8b8b8", "strokeWidth": 1},
 "scale": {"bandPaddingInner": 0, "bandPaddingOuter": 0},
 "axis": {"grid": false, "labelFont": "Liberation Sans", "labelFontSize": 8.5, "labelColor": "#000000", "tickColor": "#888888", "domain": false, "tickSize": 3, "labelPadding": 2}
}
}
